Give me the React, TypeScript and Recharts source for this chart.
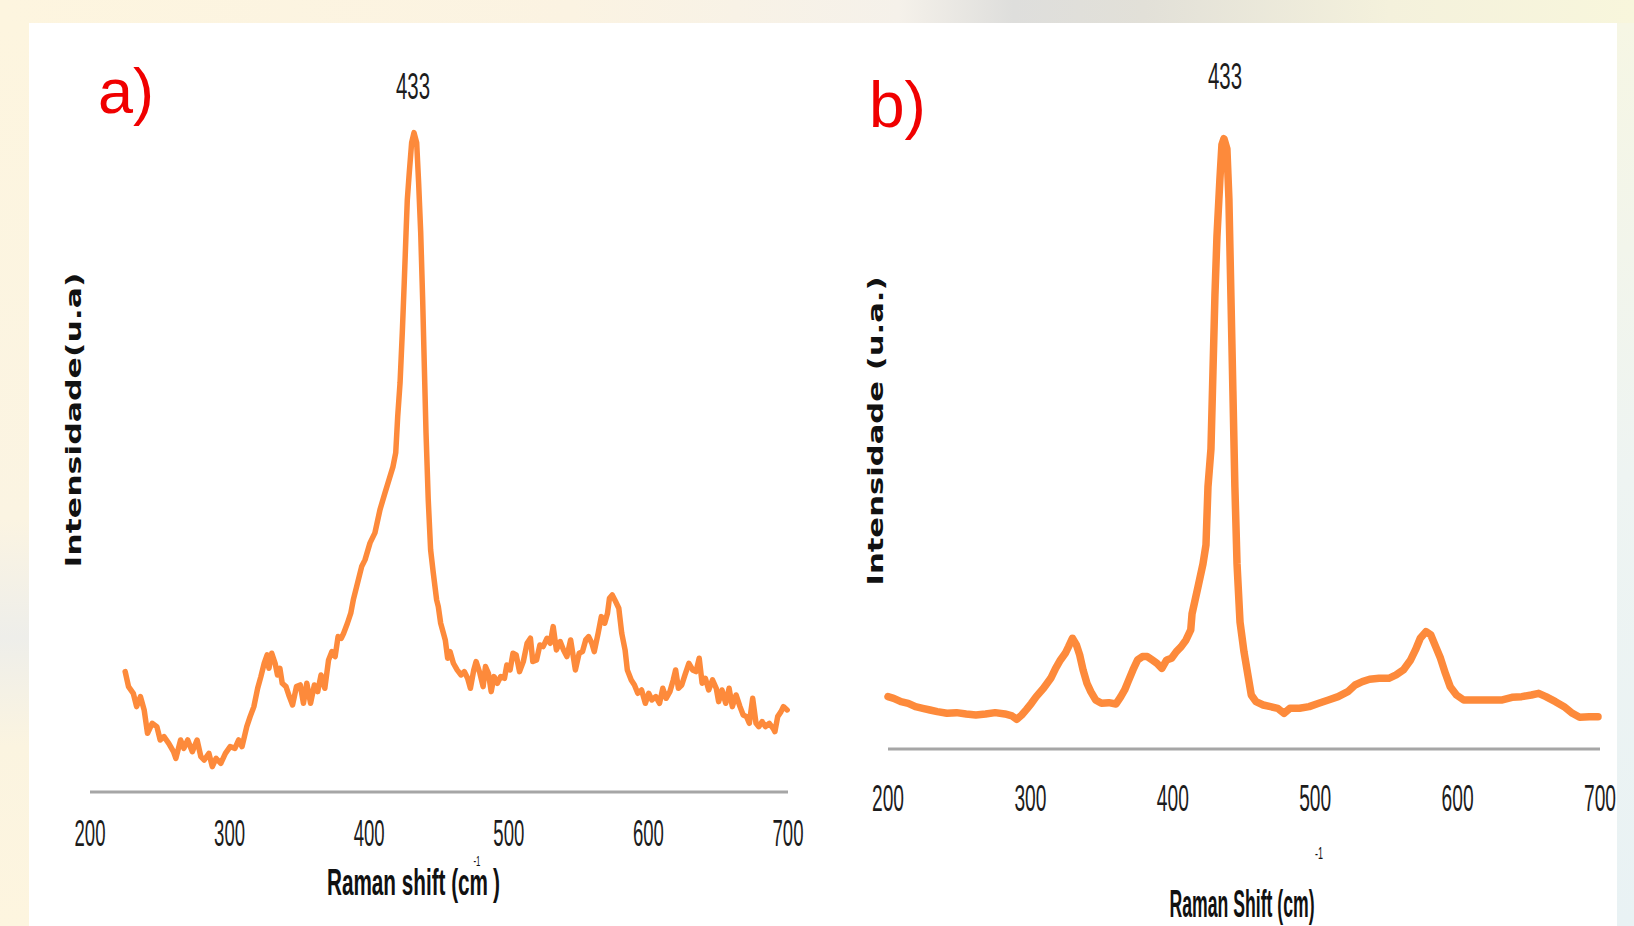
import React from "react";
import { LineChart, Line, XAxis, YAxis } from "recharts";

// ---- Data ----
const xTicks = [200, 300, 400, 500, 600, 700];

const ramanShiftA = [
  225.2, 227.6, 231.0, 233.4, 236.1, 238.8, 241.2, 244.5, 247.9, 250.3, 253.0, 256.4, 259.8, 261.5, 264.9, 267.2, 270.0, 273.3, 276.7, 279.4,
  281.8, 285.2, 287.6, 290.3, 293.7, 297.0, 300.4, 303.8, 306.5, 308.9, 312.3, 314.7, 317.4, 320.1, 322.4, 324.8, 326.9, 328.2, 330.2, 332.6,
  334.3, 336.0, 337.7, 340.4, 342.8, 345.1, 347.9, 350.6, 352.9, 355.3, 358.0, 360.7, 363.1, 365.5, 368.2, 370.9, 373.3, 375.6, 377.7, 380.0,
  381.7, 384.4, 386.8, 388.6, 391.0, 394.6, 397.0, 400.6, 404.1, 407.7, 411.3, 413.5, 417.0, 419.0, 420.4, 422.1, 423.7, 425.1, 426.4, 427.3,
  428.7, 430.4, 432.1, 434.0, 435.4, 436.9, 438.3, 439.5, 440.7, 442.3, 444.0, 445.9, 448.3, 449.5, 451.2, 454.5, 456.2, 457.9, 460.3, 463.0,
  465.7, 468.1, 470.5, 472.5, 474.9, 476.6, 479.3, 481.6, 483.3, 485.4, 487.4, 489.4, 491.8, 494.2, 496.9, 498.6, 500.9, 503.0, 505.3, 507.7,
  510.4, 513.1, 515.5, 517.2, 519.9, 522.3, 524.6, 527.4, 529.7, 531.8, 534.1, 536.8, 539.2, 541.6, 544.3, 547.7, 550.4, 552.8, 555.1, 557.2,
  559.5, 561.2, 564.0, 566.3, 568.7, 570.7, 572.1, 574.1, 576.5, 578.8, 580.9, 583.3, 584.9, 587.7, 590.0, 592.4, 595.1, 597.8, 600.2, 602.5,
  605.3, 608.0, 610.3, 612.7, 615.4, 617.8, 619.5, 621.5, 623.9, 626.2, 629.0, 631.7, 634.1, 636.4, 638.5, 640.8, 643.2, 645.9, 648.6, 650.3,
  652.7, 655.4, 657.8, 660.1, 662.8, 665.6, 667.9, 670.3, 672.3, 674.7, 677.1, 679.1, 681.5, 683.8, 686.6, 689.3, 690.6, 692.6, 695.0, 696.7,
  699.4,
];
const intensityA = [
  361, 316, 296, 256, 286, 246, 176, 206, 196, 156, 166, 146, 121, 101, 156, 131, 156, 121, 156, 106,
  96, 116, 76, 101, 86, 116, 136, 131, 156, 136, 196, 226, 256, 311, 346, 386, 411, 371, 416, 386,
  351, 371, 326, 316, 286, 261, 316, 321, 266, 326, 266, 321, 301, 351, 311, 396, 421, 406, 466, 461,
  476, 506, 536, 576, 616, 676, 696, 747, 777, 846, 897, 927, 975, 1017, 1125, 1227, 1377, 1527, 1677, 1776,
  1857, 1947, 1977, 1947, 1827, 1677, 1476, 1275, 1077, 876, 726, 657, 576, 556, 506, 456, 401, 421, 386, 366,
  351, 361, 341, 311, 366, 391, 356, 316, 376, 356, 301, 346, 326, 346, 341, 381, 366, 416, 411, 361,
  391, 446, 461, 391, 396, 441, 436, 461, 446, 496, 426, 451, 426, 406, 456, 366, 416, 421, 456, 466,
  446, 421, 476, 526, 506, 536, 581, 591, 571, 551, 476, 426, 366, 336, 321, 296, 306, 266, 296, 276,
  286, 266, 311, 281, 301, 336, 366, 311, 321, 351, 386, 366, 361, 401, 326, 341, 306, 336, 311, 271,
  306, 266, 311, 256, 291, 256, 231, 226, 206, 281, 206, 196, 211, 196, 206, 191, 181, 226, 241, 256,
  246,
];

const ramanShiftB = [
  200.0, 204.0, 209.1, 214.2, 219.3, 224.4, 229.5, 234.6, 241.4, 248.1, 254.9, 261.7, 268.5, 275.3, 282.1, 287.1, 290.5, 293.9, 297.3, 300.7,
  304.1, 309.2, 314.3, 317.7, 321.1, 324.5, 326.8, 329.5, 332.3, 334.6, 337.0, 339.7, 342.4, 345.8, 349.9, 355.0, 360.1, 363.5, 366.2, 368.6,
  372.0, 375.3, 378.7, 382.1, 385.5, 388.9, 392.3, 395.7, 399.1, 402.5, 405.9, 409.3, 412.6, 413.5, 417.7, 421.2, 423.3, 424.7, 426.8, 428.2,
  429.6, 431.0, 433.1, 434.5, 435.9, 438.0, 439.4, 440.8, 442.2, 443.6, 445.1, 447.2, 450.0, 455.1, 458.4, 463.5, 468.6, 473.7, 478.1, 482.2,
  489.0, 495.8, 502.5, 509.3, 516.1, 522.9, 528.0, 533.1, 538.2, 544.9, 551.7, 556.8, 561.9, 567.0, 570.4, 573.8, 577.8, 581.2, 584.6, 588.0,
  591.4, 594.8, 599.2, 604.3, 611.1, 617.9, 624.7, 631.4, 638.2, 645.0, 651.8, 656.9, 662.0, 668.7, 674.8, 680.6, 685.7, 692.5, 698.6,
];
const intensityB = [
  157, 152, 142, 137, 127, 122, 117, 112, 107, 109, 105, 102, 105, 109, 105, 99, 89, 102, 119, 137,
  157, 182, 212, 242, 267, 287, 307, 332, 312, 282, 237, 197, 172, 147, 137, 139, 135, 157, 177, 202,
  237, 267, 277, 277, 267, 257, 242, 267, 272, 292, 307, 327, 357, 405, 486, 555, 612, 786, 900, 1131,
  1362, 1536, 1710, 1812, 1830, 1800, 1650, 1362, 1074, 786, 555, 381, 291, 162, 142, 132, 127, 122, 107, 122,
  122, 127, 137, 147, 157, 172, 192, 202, 209, 212, 212, 222, 237, 267, 297, 332, 352, 342, 307, 272,
  227, 187, 162, 147, 147, 147, 147, 147, 155, 157, 162, 167, 157, 142, 127, 107, 95, 97, 97,
];

const dataA = ramanShiftA.map((x, i) => ({ x, y: intensityA[i] }));
const dataB = ramanShiftB.map((x, i) => ({ x, y: intensityB[i] }));

const ORANGE = "#fd8a3b";
const AXIS_GRAY = "#a6a6a6";
const CONDENSED = "'Liberation Sans', Arial, sans-serif";

const makeTick = (dy: number, len: number) => (props: any) => {
  const { x, y, payload } = props;
  return (
    <text
      x={x}
      y={y + dy}
      textAnchor="middle"
      fontFamily={CONDENSED}
      fontSize={37}
      fill="#1c1c1c"
      textLength={len}
      lengthAdjust="spacingAndGlyphs"
    >
      {payload.value}
    </text>
  );
};

export default function App() {
  const W = 1634;
  const H = 926;
  return (
    <div
      style={{
        position: "absolute",
        left: 0,
        top: 0,
        width: W,
        height: H,
        overflow: "hidden",
        background:
          "linear-gradient(90deg, #fdf5df 0%, #fbf3e2 35%, #f5f1ea 55%, #dededc 62%, #e2e0d8 70%, #f4f1dc 85%, #f8f6dc 100%)",
      }}
    >
      {/* white panel */}
      <div style={{ position: "absolute", left: 29, top: 23, width: 1588, height: H - 23, background: "#ffffff" }} />
      {/* right edge strip */}
      <div
        style={{
          position: "absolute",
          left: 1617,
          top: 23,
          width: 17,
          height: H - 23,
          background: "linear-gradient(180deg, #f6f6e4 0%, #eef4f2 50%, #e9f2f4 100%)",
        }}
      />
      {/* left edge strip */}
      <div
        style={{
          position: "absolute",
          left: 0,
          top: 23,
          width: 29,
          height: H - 23,
          background: "linear-gradient(180deg, #fdf5df 0%, #fbf4e2 55%, #eeeeea 68%, #fbf4e0 80%, #fdf5df 100%)",
        }}
      />

      {/* Chart a */}
      <div style={{ position: "absolute", left: 0, top: 0 }}>
        <LineChart width={W} height={H} data={dataA} margin={{ top: 125, left: 90, right: W - 788, bottom: 104 }}>
          <XAxis
            dataKey="x"
            type="number"
            domain={[200, 700]}
            ticks={xTicks}
            height={30}
            tickLine={false}
            tickSize={0}
            tickMargin={0}
            axisLine={{ stroke: AXIS_GRAY, strokeWidth: 3 }}
            tick={makeTick(54, 31)}
            interval={0}
          />
          <YAxis type="number" domain={[0, 2000]} hide />
          <Line
            type="linear"
            dataKey="y"
            stroke={ORANGE}
            strokeWidth={5.5}
            strokeLinejoin="round"
            strokeLinecap="round"
            dot={false}
            isAnimationActive={false}
          />
        </LineChart>
      </div>

      {/* Chart b */}
      <div style={{ position: "absolute", left: 0, top: 0 }}>
        <LineChart width={W} height={H} data={dataB} margin={{ top: 82, left: 888, right: W - 1600, bottom: 147 }}>
          <XAxis
            dataKey="x"
            type="number"
            domain={[200, 700]}
            ticks={xTicks}
            height={30}
            tickLine={false}
            tickSize={0}
            tickMargin={0}
            axisLine={{ stroke: AXIS_GRAY, strokeWidth: 3 }}
            tick={makeTick(62, 32)}
            interval={0}
          />
          <YAxis type="number" domain={[0, 2000]} hide />
          <Line
            type="linear"
            dataKey="y"
            stroke={ORANGE}
            strokeWidth={7.5}
            strokeLinejoin="round"
            strokeLinecap="round"
            dot={false}
            isAnimationActive={false}
          />
        </LineChart>
      </div>

      {/* Text overlay */}
      <svg width={W} height={H} style={{ position: "absolute", left: 0, top: 0, pointerEvents: "none" }}>
        {/* panel labels */}
        <text x={98} y={113} fontFamily="'Liberation Sans', Arial, sans-serif" fontSize={63} fill="#f00000">
          a)
        </text>
        <text x={869} y={127} fontFamily="'Liberation Sans', Arial, sans-serif" fontSize={64} fill="#f00000">
          b)
        </text>

        {/* peak labels */}
        <text x={413} y={99} textAnchor="middle" fontFamily={CONDENSED} fontSize={37} fill="#1c1c1c" textLength={34} lengthAdjust="spacingAndGlyphs">
          433
        </text>
        <text x={1225} y={89} textAnchor="middle" fontFamily={CONDENSED} fontSize={37} fill="#1c1c1c" textLength={34} lengthAdjust="spacingAndGlyphs">
          433
        </text>

        {/* y titles */}
        <text
          transform="translate(73,420) rotate(-90)"
          textAnchor="middle"
          dominantBaseline="central"
          fontFamily="'DejaVu Sans', Verdana, sans-serif"
          fontWeight="bold"
          fontSize={22}
          fill="#111"
          textLength={295}
          lengthAdjust="spacingAndGlyphs"
        >
          Intensidade(u.a)
        </text>
        <text
          transform="translate(875,431) rotate(-90)"
          textAnchor="middle"
          dominantBaseline="central"
          fontFamily="'DejaVu Sans', Verdana, sans-serif"
          fontWeight="bold"
          fontSize={22}
          fill="#111"
          textLength={309}
          lengthAdjust="spacingAndGlyphs"
        >
          Intensidade (u.a.)
        </text>

        {/* x titles */}
        <text x={327} y={895} fontFamily={CONDENSED} fontWeight="bold" fontSize={36} fill="#111" textLength={161} lengthAdjust="spacingAndGlyphs">
          Raman shift (cm
        </text>
        <text x={493} y={895} fontFamily={CONDENSED} fontWeight="bold" fontSize={36} fill="#111" textLength={7} lengthAdjust="spacingAndGlyphs">
          )
        </text>
        <text x={477} y={866} textAnchor="middle" fontFamily={CONDENSED} fontSize={14} fill="#111" textLength={7} lengthAdjust="spacingAndGlyphs">
          -1
        </text>

        <text x={1242} y={917} textAnchor="middle" fontFamily={CONDENSED} fontWeight="bold" fontSize={38} fill="#111" textLength={145} lengthAdjust="spacingAndGlyphs">
          Raman Shift (cm)
        </text>
        <text x={1319} y={859} textAnchor="middle" fontFamily={CONDENSED} fontSize={17} fill="#111" textLength={8} lengthAdjust="spacingAndGlyphs">
          -1
        </text>
      </svg>
    </div>
  );
}
